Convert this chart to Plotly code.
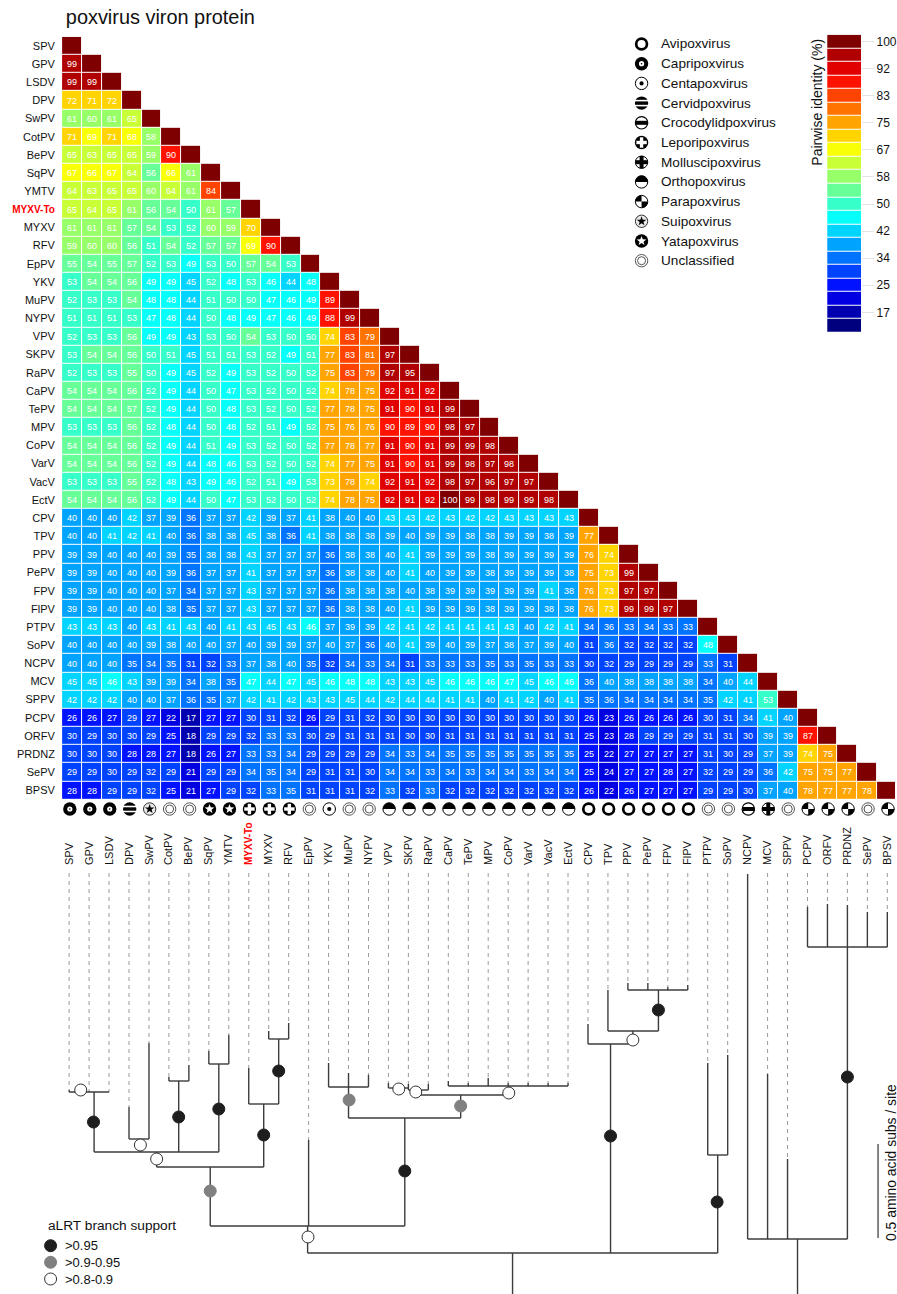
import math
import plotly.graph_objects as go

W, H = 897, 1294
SANS = "Liberation Sans, Arial, sans-serif"

taxa = ["SPV","GPV","LSDV","DPV","SwPV","CotPV","BePV","SqPV","YMTV","MYXV-To","MYXV","RFV","EpPV","YKV",
        "MuPV","NYPV","VPV","SKPV","RaPV","CaPV","TePV","MPV","CoPV","VarV","VacV","EctV","CPV","TPV","PPV",
        "PePV","FPV","FlPV","PTPV","SoPV","NCPV","MCV","SPPV","PCPV","ORFV","PRDNZ","SePV","BPSV"]

identity_rows = [
 [],
 [99],
 [99,99],
 [72,71,72],
 [61,60,61,65],
 [71,69,71,68,58],
 [65,63,65,65,59,90],
 [67,66,67,64,56,66,61],
 [64,63,65,65,60,64,61,84],
 [65,64,65,61,56,54,50,61,57],
 [61,61,61,57,54,53,52,60,59,70],
 [59,60,60,56,51,54,52,57,57,69,90],
 [55,54,55,57,52,53,49,53,50,57,54,53],
 [53,54,54,56,49,49,45,52,48,53,46,44,48],
 [52,53,53,54,48,48,44,51,50,50,47,46,49,89],
 [51,51,51,53,47,48,44,50,48,49,47,46,49,88,99],
 [52,53,53,56,49,49,43,53,50,54,53,50,50,74,83,79],
 [53,54,54,56,50,51,45,51,51,53,52,49,51,77,83,81,97],
 [52,53,53,55,50,49,45,52,49,53,52,50,52,75,83,79,97,95],
 [54,54,54,56,52,49,44,50,47,53,52,50,52,74,78,75,92,91,92],
 [54,54,54,57,52,49,44,50,48,53,52,50,52,77,78,75,91,90,91,99],
 [53,53,53,56,52,48,44,50,48,52,51,49,52,75,76,76,90,89,90,98,97],
 [54,54,54,56,52,49,44,51,49,53,52,50,52,77,78,77,91,90,91,99,99,98],
 [54,54,54,56,52,49,44,48,46,53,52,50,52,74,77,75,91,90,91,99,98,97,98],
 [53,53,53,55,52,48,43,49,46,52,51,49,53,73,78,74,92,91,92,98,97,96,97,97],
 [54,54,54,56,52,49,44,50,47,53,52,50,52,74,78,75,92,91,92,100,99,98,99,99,98],
 [40,40,40,42,37,39,36,37,37,42,39,37,41,38,40,40,43,43,42,43,42,42,43,43,43,43],
 [40,40,41,42,41,40,36,38,38,45,38,36,41,38,38,38,39,40,39,39,38,38,39,39,38,39,77],
 [39,39,40,40,40,39,35,38,38,43,37,37,37,36,38,38,40,41,39,39,39,38,39,39,39,39,76,74],
 [39,39,40,40,40,39,36,37,37,41,37,37,37,36,38,38,40,41,40,39,39,38,39,39,39,38,75,73,99],
 [39,39,40,40,40,37,34,37,37,43,37,37,37,36,38,38,38,40,38,39,39,39,39,39,41,38,76,73,97,97],
 [39,39,40,40,40,38,35,37,37,43,37,37,37,36,38,38,40,41,39,39,39,38,39,39,38,38,76,73,99,99,97],
 [43,43,43,40,43,41,43,40,41,43,45,43,46,37,39,39,42,41,42,41,41,41,43,40,42,41,34,36,33,34,33,33],
 [40,40,40,40,39,38,40,40,37,40,39,39,37,40,37,36,40,41,39,40,39,37,38,37,39,40,31,36,32,32,32,32,48],
 [40,40,40,35,34,35,31,32,33,37,38,40,35,32,34,33,34,31,33,33,33,35,33,35,33,33,30,32,29,29,29,29,33,31],
 [45,45,46,43,39,39,34,38,35,47,44,47,45,46,48,48,43,43,45,46,46,46,47,45,46,46,36,40,38,38,38,38,34,40,44],
 [42,42,42,40,40,37,36,35,37,42,41,42,43,43,45,44,42,44,44,41,41,40,41,42,40,41,35,36,34,34,34,34,35,42,41,53],
 [26,26,27,29,27,22,17,27,27,30,31,32,26,29,31,32,30,30,30,30,30,30,30,30,30,30,26,23,26,26,26,26,30,31,34,41,40],
 [30,29,30,30,29,25,18,29,29,32,33,33,30,29,31,31,31,30,30,31,31,31,31,31,31,31,25,23,28,29,29,29,31,31,30,39,39,87],
 [30,30,30,28,28,27,18,26,27,33,33,34,29,29,29,29,34,33,34,35,35,35,35,35,35,35,25,22,27,27,27,27,31,30,29,37,39,74,75],
 [29,29,30,29,32,29,21,29,29,34,35,34,29,31,31,30,34,34,33,34,33,34,34,33,34,34,25,24,27,27,28,27,32,29,29,36,42,75,75,77],
 [28,28,29,29,32,25,21,27,29,32,33,35,31,31,31,32,33,32,33,32,32,32,32,32,32,32,26,22,26,27,27,27,29,29,30,37,40,78,77,77,78],
]
for i, r in enumerate(identity_rows):
    assert len(r) == i, (i, len(r))

genera = ["Avipoxvirus","Capripoxvirus","Centapoxvirus","Cervidpoxvirus","Crocodylidpoxvirus","Leporipoxvirus",
          "Molluscipoxvirus","Orthopoxvirus","Parapoxvirus","Suipoxvirus","Yatapoxvirus","Unclassified"]
taxon_genus = (["Capripoxvirus"]*3 + ["Cervidpoxvirus","Suipoxvirus","Unclassified","Unclassified"]
    + ["Yatapoxvirus"]*2 + ["Leporipoxvirus"]*3 + ["Unclassified","Centapoxvirus","Unclassified","Unclassified"]
    + ["Orthopoxvirus"]*10 + ["Avipoxvirus"]*6 + ["Unclassified","Unclassified","Crocodylidpoxvirus",
       "Molluscipoxvirus","Unclassified","Parapoxvirus","Parapoxvirus","Parapoxvirus","Unclassified","Parapoxvirus"])

palette = ["#00007F","#0000B0","#0000E1","#0012FF","#0043FF","#0073FF","#00A4FF","#00D4FF","#06FFF9","#36FFC9",
           "#67FF98","#97FF67","#C8FF36","#F9FF06","#FFD400","#FFA400","#FF7300","#FF4300","#FF1200","#E10000",
           "#B00000","#7F0000"]
bar_tick_cells = [0,2,4,6,8,10,12,14,16,18,20]
bar_tick_labels = ["100","92","83","75","67","58","50","42","34","25","17"]
ZMIN, ZMAX = 11.85, 103.15

# tree: horizontal unit = taxon position, vertical unit = height above the figure foot (188 units = 1 sub/site)
tip_top = [204,203,202,187,251,217,229,243,259,226,263,271,154,231,221,219,211,210,210,213,211,216,211,211,211,211,
           270,304,311,311,307,309,231,239,420,220,135,387,390,389,382,382]
tip_base = [202,202,202,155,155,213,213,230,230,190,255,255,68,207,207,207,206,204,204,208,208,208,208,208,208,208,
            250,263,304,304,304,304,139,139,55,55,55,347,347,347,347,347]
stems = [(1.25,202,142),(3.57,155,142),(5.49,213,142),(7.5,230,142),(4.385,142,127),(10.5,255,190),(9.75,190,127),
         (7.07,127,68),(14,207,176),(17.37,204,199),(22.03,208,199),(19.62,199,176),(16.82,176,68),(11.95,68,41),
         (29.53,304,263),(28.25,263,250),(27.13,250,41),(32.5,139,41),(22.22,41,0),(39,347,55),(36.5,55,0)]
bars = [(0,2,202),(3,4,155),(5,6,213),(7,8,230),(1.25,7.5,142),(10,11,255),(9,10.5,190),(4.385,9.75,127),
        (7.07,16.82,68),(13,15,207),(14,19.62,176),(16,17,206),(17,18,204),(17.37,22.03,199),(19,25,208),
        (26,28.25,250),(27,29.53,263),(28,31,304),(32,33,139),(11.95,32.5,41),(34,39,55),(37,41,347)]
support_high = [(1.22,172),(5.49,177),(7.5,185),(10.5,223),(9.75,159),(16.82,123),(29.53,284),(27.13,158),(32.47,92),(39,217)]
support_mid = [(7.07,103),(14.03,194),(19.62,188)]
support_low = [(0.58,204),(3.57,149),(4.385,135),(11.97,57),(16.52,205),(17.37,202),(22.03,201),(28.25,254)]
scale_bar = (40.535, 56, 150)
DASH_TOP = 421
LABEL_AXIS_TOP = 428

def py(v):
    return 1 - v / H
def px(v):
    return v / W

def stepped(colors):
    n = len(colors)
    out = []
    for i, c in enumerate(colors):
        out += [[i / n, c], [(i + 1) / n, c]]
    return out

fig = go.Figure()

# ---------- matrix ----------
n = len(taxa)
z, txt = [], []
for i in range(n):
    row = list(identity_rows[i]) + [100] + [None] * (n - i - 1)
    z.append(row)
    txt.append([str(v) for v in identity_rows[i]] + [""] * (n - i))
fig.add_trace(go.Heatmap(z=z, text=txt, texttemplate="%{text}", textfont=dict(family=SANS, size=9, color="white"),
                         colorscale=stepped(palette), zmin=ZMIN, zmax=ZMAX, showscale=False, xgap=1, ygap=1,
                         hoverongaps=False, xaxis="x", yaxis="y"))

# ---------- identity scale ----------
cells = list(range(len(palette)))
fig.add_trace(go.Heatmap(z=[[len(palette) - 1 - c] for c in cells], y=cells, x=[0], colorscale=stepped(palette),
                         zmin=-0.5, zmax=len(palette) - 0.5, showscale=False, ygap=1, xaxis="x3", yaxis="y3"))

# ---------- tree ----------
dx, dy = [], []
for i, (t) in enumerate(tip_top):
    if t < DASH_TOP - 2:
        dx += [i, i, None]; dy += [DASH_TOP, t, None]
fig.add_trace(go.Scatter(x=dx, y=dy, mode="lines", line=dict(color="#9a9a9a", width=1, dash="4px,4px"),
                         hoverinfo="skip", xaxis="x2", yaxis="y2"))
sx, sy = [], []
for i, (t, b) in enumerate(zip(tip_top, tip_base)):
    if t > b:
        sx += [i, i, None]; sy += [t, b, None]
for x, a, b in stems:
    sx += [x, x, None]; sy += [a, b, None]
for a, b, y in bars:
    sx += [a, b, None]; sy += [y, y, None]
fig.add_trace(go.Scatter(x=sx, y=sy, mode="lines", line=dict(color="#3c3c3c", width=1.4), hoverinfo="skip",
                         xaxis="x2", yaxis="y2"))
fig.add_trace(go.Scatter(x=[scale_bar[0]] * 2, y=list(scale_bar[1:]), mode="lines", line=dict(color="#333", width=1.2),
                         hoverinfo="skip", xaxis="x2", yaxis="y2"))
for pts, fc, lc in [(support_high, "#1e1e1e", "#1e1e1e"), (support_mid, "#808080", "#808080"), (support_low, "white", "#333")]:
    fig.add_trace(go.Scatter(x=[p[0] for p in pts], y=[p[1] for p in pts], mode="markers",
                             marker=dict(size=12, color=fc, line=dict(color=lc, width=1)), hoverinfo="skip",
                             xaxis="x2", yaxis="y2"))

# support legend
for yy, fc, lc, lab_ in [(1245.7, "#1e1e1e", "#1e1e1e", ">0.95"), (1262.3, "#808080", "#808080", ">0.9-0.95"), (1279, "white", "#333", ">0.8-0.9")]:
    fig.add_trace(go.Scatter(x=[px(50.7)], y=[py(yy)], mode="markers", marker=dict(size=12, color=fc, line=dict(color=lc, width=1)),
                             hoverinfo="skip", xaxis="x4", yaxis="y4"))

# ---------- genus glyphs ----------
def star_path(ro, ri):
    pts = []
    for k in range(10):
        r = ro if k % 2 == 0 else ri
        a = math.pi / 2 + k * math.pi / 5
        pts.append((r * math.cos(a), r * math.sin(a)))
    return "M " + " L ".join(f"{a:.2f} {b:.2f}" for a, b in pts) + " Z"

def arc_path(r, a0, a1, centre=True):
    pts = []
    for k in range(25):
        a = math.radians(a0 + (a1 - a0) * k / 24)
        pts.append((r * math.cos(a), r * math.sin(a)))
    if centre:
        pts.append((0, 0))
    return "M " + " L ".join(f"{a:.2f} {b:.2f}" for a, b in pts) + " Z"

def disc(r, fill, line=None, lw=0):
    return dict(type="circle", x0=-r, x1=r, y0=-r, y1=r, fillcolor=fill,
                line=dict(color=line or fill, width=lw))
def rect(x0, x1, y0, y1, fill):
    return dict(type="rect", x0=x0, x1=x1, y0=y0, y1=y1, fillcolor=fill, line=dict(width=0))
def path(d, fill):
    return dict(type="path", path=d, fillcolor=fill, line=dict(width=0))

K, WH = "#000000", "#ffffff"
recipes = {
 "Avipoxvirus": [disc(5.4, WH, K, 2.7)],
 "Capripoxvirus": [disc(6.7, K), disc(2.6, WH), disc(0.8, K)],
 "Centapoxvirus": [disc(6.2, WH, K, 1), disc(2.1, K)],
 "Cervidpoxvirus": [disc(6.7, K), rect(-7, 7, 1.7, 3.3, WH), rect(-7, 7, -3.3, -1.7, WH)],
 "Crocodylidpoxvirus": [disc(6.2, WH, K, 1.2), rect(-6, 6, -2, 2, K)],
 "Leporipoxvirus": [disc(6.7, K), rect(-5.2, 5.2, -1.7, 1.7, WH), rect(-1.7, 1.7, -5.2, 5.2, WH)],
 "Molluscipoxvirus": [disc(6.2, WH, K, 1), rect(-6.2, 6.2, -2, 2, K), rect(-2, 2, -6.2, 6.2, K)],
 "Orthopoxvirus": [disc(6.2, WH, K, 1), path(arc_path(6.2, 0, 180, False), K)],
 "Parapoxvirus": [disc(6.2, WH, K, 1), path(arc_path(6.2, 90, 180), K), path(arc_path(6.2, 270, 360), K)],
 "Suipoxvirus": [disc(6.2, "#e8e8e8", "#333", 1), path(star_path(5, 2), K)],
 "Yatapoxvirus": [disc(6.7, K), path(star_path(5, 2.1), WH)],
 "Unclassified": [disc(6.2, WH, "#555", 1), disc(4, WH, "#555", 1)],
}
shapes = []
def place(genus, xref, x, yref, y):
    for part in recipes[genus]:
        s = dict(part)
        s.update(xsizemode="pixel", ysizemode="pixel", xanchor=x, yanchor=y, xref=xref, yref=yref, layer="above")
        shapes.append(s)
for i, g in enumerate(taxon_genus):
    place(g, "x2", i + 0.035, "paper", py(809))
ann = []
for j, g in enumerate(genera):
    y = 44 + 19.7 * j
    place(g, "paper", px(643), "paper", py(y))
    ann.append(dict(text=g, x=px(660), y=py(y), xref="paper", yref="paper", xanchor="left", yanchor="middle",
                    showarrow=False, font=dict(family=SANS, size=13.6, color="#111")))

ann += [
 dict(text="Pairwise identity (%)", x=px(818.5), y=py(102), textangle=-90, xref="paper", yref="paper", showarrow=False,
      xanchor="center", yanchor="middle", font=dict(family=SANS, size=14, color="#111")),
 dict(text="aLRT branch support", x=px(46), y=py(1225), xref="paper", yref="paper", showarrow=False, xanchor="left",
      yanchor="middle", font=dict(family=SANS, size=13.7, color="#111")),
 dict(text="0.5 amino acid subs / site", x=px(893), y=py(1163), textangle=-90, xref="paper", yref="paper", showarrow=False,
      xanchor="center", yanchor="middle", font=dict(family=SANS, size=13.9, color="#111")),
]
for yy, lab_ in [(1245.7, ">0.95"), (1262.3, ">0.9-0.95"), (1279, ">0.8-0.9")]:
    ann.append(dict(text=lab_, x=px(62.7), y=py(yy), xref="paper", yref="paper", showarrow=False, xanchor="left",
                    yanchor="middle", font=dict(family=SANS, size=13, color="#111")))

def lab(t):
    if t == "MYXV-To":
        return '<b><span style="color:#ff0000;font-size:10px">%s</span></b>' % t
    return t
ticktext = [lab(t) for t in taxa]

fig.update_layout(
    width=W, height=H, autosize=False, margin=dict(l=0, r=0, t=0, b=0), paper_bgcolor="white", plot_bgcolor="rgba(0,0,0,0)",
    showlegend=False, shapes=shapes, annotations=ann,
    title=dict(text="poxvirus viron protein", x=px(66), y=py(17), xref="paper", yref="paper", xanchor="left", yanchor="middle",
               font=dict(family=SANS, size=19.9, color="#111")),
    xaxis=dict(domain=[px(62.2), 1], range=[-0.5, 41.39], visible=False, anchor="y"),
    yaxis=dict(domain=[py(799.5), py(36.8)], range=[41.5, -0.5], anchor="x", tickmode="array",
               tickvals=list(range(n)), ticktext=ticktext, ticks="outside", ticklen=4, tickcolor="rgba(0,0,0,0)",
               showgrid=False, zeroline=False, showline=False, tickfont=dict(family=SANS, size=11, color="#111")),
    xaxis2=dict(domain=[0, 1], range=[-3.465, 41.385], anchor="y2", side="top", tickmode="array", tickvals=list(range(n)),
                ticktext=ticktext, tickangle=-90, ticks="", showgrid=False, zeroline=False, showline=False,
                tickfont=dict(family=SANS, size=11, color="#111")),
    yaxis2=dict(domain=[0, LABEL_AXIS_TOP / H], range=[0, LABEL_AXIS_TOP], anchor="x2", visible=False),
    xaxis3=dict(domain=[px(829), px(863)], range=[-0.5, 0.5], anchor="y3", visible=False),
    yaxis3=dict(domain=[py(332.7), py(34.7)], range=[21.5, -0.5], anchor="x3", side="right", tickmode="array",
                tickvals=bar_tick_cells, ticktext=bar_tick_labels, ticks="outside", ticklen=12, tickcolor="#e4e4e4",
                showgrid=False, zeroline=False, showline=False, tickfont=dict(family=SANS, size=12, color="#111")),
    xaxis4=dict(domain=[0, 1], range=[0, 1], anchor="y4", visible=False),
    yaxis4=dict(domain=[0, 1], range=[0, 1], anchor="x4", visible=False),
)
fig.write_html("out.html", config=dict(displayModeBar=False),
               post_script="document.body.style.margin='0';document.body.style.overflow='hidden';")
